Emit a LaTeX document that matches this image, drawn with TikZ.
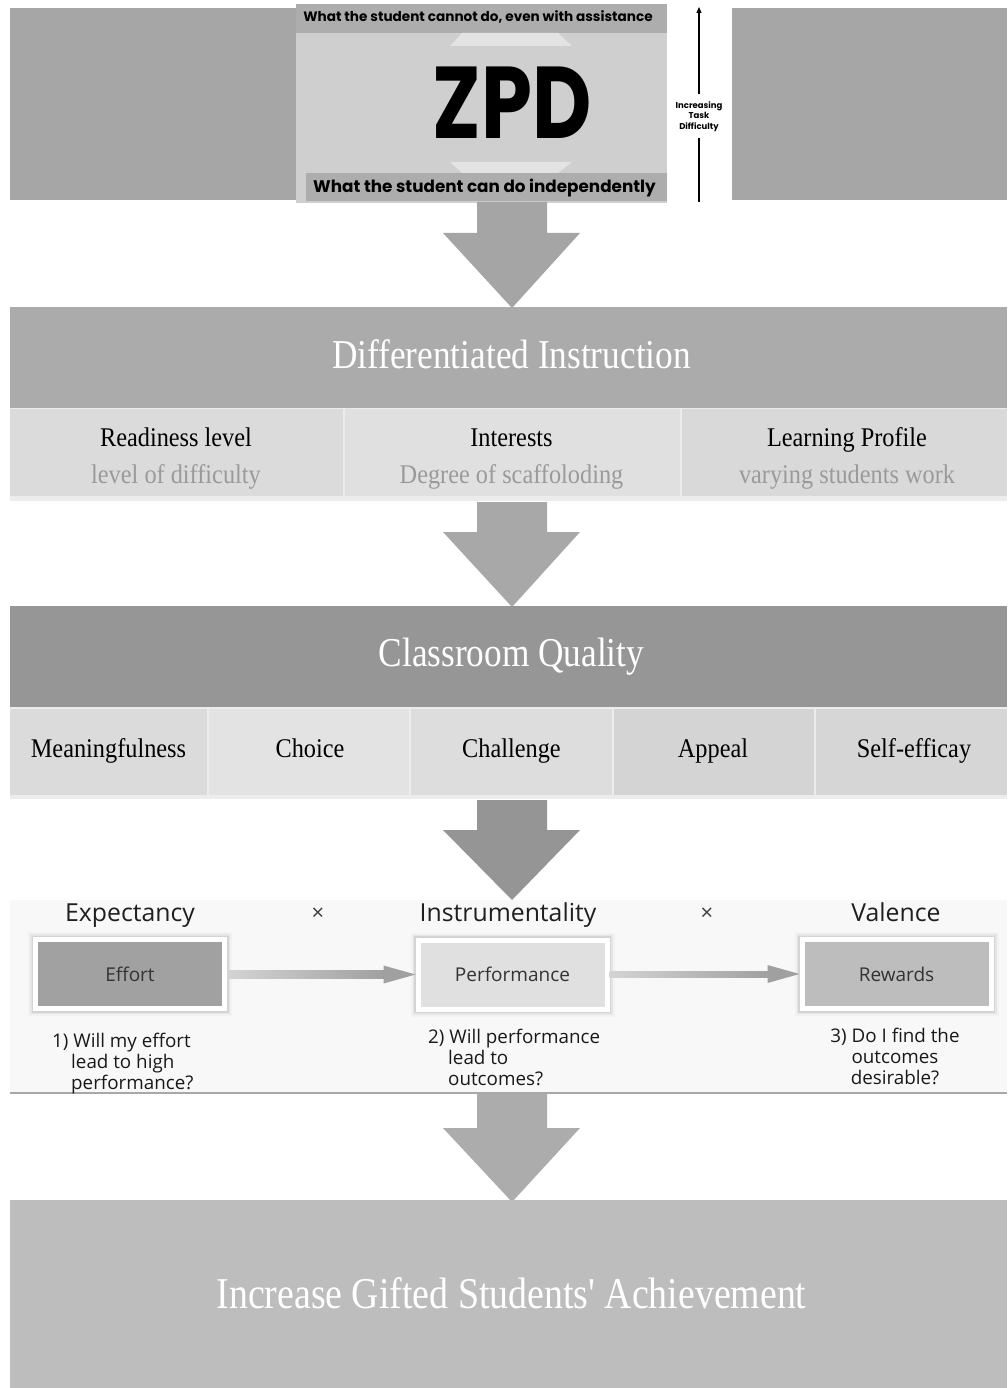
\documentclass[tikz,border=0pt]{standalone}
\usepackage{fontspec}
\setmainfont{Liberation Serif}
\newfontfamily\hdfont[FakeStretch=0.86]{Liberation Serif}
\newfontfamily\cellfont[FakeStretch=0.9]{Liberation Serif}
\newfontfamily\vrfont{Open Sans}
\newfontfamily\zpdfont[FakeStretch=0.8]{Poppins}
\newfontfamily\popfont{Poppins}
\usetikzlibrary{calc,arrows.meta}
\definecolor{topbar}{HTML}{A6A6A6}
\definecolor{zpdpanel}{HTML}{CFCFCF}
\definecolor{zpdband}{HTML}{ADADAD}
\definecolor{zpdlight}{HTML}{E3E3E3}
\definecolor{diband}{HTML}{ABABAB}
\definecolor{cqband}{HTML}{969696}
\definecolor{finalband}{HTML}{BDBDBD}
\definecolor{subtxt}{HTML}{9A9A9A}
\definecolor{cellstrip}{HTML}{ECECEC}
\definecolor{vbg}{HTML}{F8F8F8}
\definecolor{vline}{HTML}{A8A8A8}
\definecolor{vtext}{HTML}{333333}
\definecolor{arrA}{HTML}{A5A5A5}
\definecolor{arrB}{HTML}{A8A8A8}
\definecolor{arrC}{HTML}{959595}
\definecolor{arrD}{HTML}{ACACAC}
\definecolor{shaftL}{HTML}{D4D4D4}
\definecolor{shaftR}{HTML}{A0A0A0}
\newcommand\blockarrow[4]{\fill[#4] (477,#1) -- (547,#1) -- (547,#2) -- (580,#2) -- (512,#3) -- (443,#2) -- (477,#2) -- cycle;}
\begin{document}
\begin{tikzpicture}[x=1pt,y=-1pt,
  rect/.style={rectangle,inner sep=0pt,outer sep=0pt,draw=none,anchor=north west},
  bandtext/.style={anchor=base,text=white,font=\hdfont\fontsize{41}{45}\selectfont},
  celltext/.style={anchor=base,text=black,font=\cellfont\fontsize{27}{30}\selectfont},
  cellsub/.style={anchor=base,text=subtxt,font=\cellfont\fontsize{27}{30}\selectfont},
  vhead/.style={anchor=base,text=black!88,font=\vrfont\fontsize{24.8}{28}\selectfont},
  vtimes/.style={text=black!75,font=\vrfont\fontsize{22}{24}\selectfont},
  vbox/.style={rectangle,draw=white,line width=5pt,minimum width=189,minimum height=69,inner sep=0pt,
    font=\vrfont\fontsize{19}{22}\selectfont,text=vtext,
    preaction={draw=black!5,line width=15pt},
    preaction={draw=black!10,line width=11pt},
    preaction={draw=black!17,line width=8pt}},
  vq/.style={anchor=north west,inner sep=0pt,text=black!90,font=\vrfont\fontsize{18.8}{21}\selectfont}]
\useasboundingbox (0,0) rectangle (1007,1388);
% ---------- ZPD row ----------
\node[rect,fill=topbar,minimum width=286,minimum height=192] (topL) at (10,8) {};
\node[rect,fill=topbar,minimum width=275,minimum height=192] (topR) at (732,8) {};
\node[rect,fill=white,minimum width=436,minimum height=200] (zpdimg) at (296,3) {};
\node[rect,fill=zpdpanel,minimum width=371,minimum height=199] (zpdpanel) at (296,4) {};
\node[rect,fill=zpdband,minimum width=371,minimum height=29] (zpdtop) at (296,4) {};
\node[rect,fill=zpdband,minimum width=361,minimum height=28] (zpdbot) at (306,173) {};
\fill[zpdlight] (462,33) -- (558,33) -- (572,46) -- (450,46) -- cycle;
\fill[zpdlight] (450,162) -- (572,162) -- (558,173) -- (462,173) -- cycle;
\node[anchor=base,font=\popfont\bfseries\fontsize{13.6}{15}\selectfont] (cannot) at (478,22) {What the student cannot do, even with assistance};
\node[anchor=base,font=\popfont\bfseries\fontsize{16.8}{19}\selectfont] (can) at (484.5,193) {What the student can do independently};
\node[font=\zpdfont\bfseries\fontsize{102}{110}\selectfont,inner sep=0pt] (zpd) at (512,102.5) {ZPD};
\node[font=\popfont\bfseries\fontsize{8.5}{10.5}\selectfont,align=center,inner xsep=1pt,inner ysep=7pt,anchor=north] (diff) at (699,94) {Increasing\\Task\\Difficulty};
\coordinate (ab) at (699,202);
\coordinate (at) at (699,7);
\draw[line width=1.1pt] (ab) -- (diff.south);
\draw[line width=1.1pt,-{Triangle[length=6pt,width=5pt]}] (diff.north) -- (at);
% ---------- arrow 1 ----------
\blockarrow{202}{233}{308}{arrA}
% ---------- Differentiated Instruction ----------
\node[rect,fill=diband,minimum width=997,minimum height=101] (di) at (10,307) {};
\node[bandtext] (ditext) at (511.5,368) {Differentiated Instruction};
\node[rect,fill=cellstrip,minimum width=997,minimum height=93] (distrip) at (10,408) {};
\node[rect,fill=black!14,minimum width=333,minimum height=87] (di1) at (10,409) {};
\node[rect,fill=black!12,minimum width=335,minimum height=87] (di2) at (345,409) {};
\node[rect,fill=black!15,minimum width=325,minimum height=87] (di3) at (682,409) {};
\node[celltext] (r1) at (176,446) {Readiness level};
\node[cellsub] (r2) at (176,483) {level of difficulty};
\node[celltext] (i1) at (511.5,446) {Interests};
\node[cellsub] (i2) at (511.5,483) {Degree of scaffoloding};
\node[celltext] (l1) at (847,446) {Learning Profile};
\node[cellsub] (l2) at (847,483) {varying students work};
% ---------- arrow 2 ----------
\blockarrow{502}{532}{607}{arrB}
% ---------- Classroom Quality ----------
\node[rect,fill=cqband,minimum width=997,minimum height=101] (cq) at (10,606) {};
\node[bandtext] (cqtext) at (511.5,666) {Classroom Quality};
\node[rect,fill=cellstrip,minimum width=997,minimum height=92] (cqstrip) at (10,707) {};
\node[rect,fill=black!14,minimum width=197,minimum height=86] (c1) at (10,709) {};
\node[rect,fill=black!11,minimum width=200,minimum height=86] (c2) at (209,709) {};
\node[rect,fill=black!13.5,minimum width=201,minimum height=86] (c3) at (411,709) {};
\node[rect,fill=black!17,minimum width=200,minimum height=86] (c4) at (614,709) {};
\node[rect,fill=black!16,minimum width=191,minimum height=86] (c5) at (816,709) {};
\node[celltext] (m) at (108.5,757) {Meaningfulness};
\node[celltext] (ch) at (310,757) {Choice};
\node[celltext] (cl) at (511.5,757) {Challenge};
\node[celltext] (ap) at (713,757) {Appeal};
\node[celltext] (se) at (914,757) {Self-efficay};
% ---------- Vroom ----------
\node[rect,fill=vbg,minimum width=997,minimum height=193] (vbgnode) at (10,900) {};
\draw[vline,line width=2pt] (vbgnode.south west) -- (vbgnode.south east);
\blockarrow{800}{830}{900}{arrC}
\node[vhead] (ex) at (130,921) {Expectancy};
\node[vhead] (ins) at (508,921) {Instrumentality};
\node[vhead] (val) at (896,921) {Valence};
\node[vtimes] (x1) at (318,914) {×};
\node[vtimes] (x2) at (707,914) {×};
\node[vbox,fill=black!37] (effort) at (130,974) {Effort};
\node[vbox,fill=black!12] (perf) at (512.5,974.5) {Performance};
\node[vbox,fill=black!26] (rew) at (896.5,974) {Rewards};
\path[left color=shaftL,right color=shaftR] ($(effort.east)+(0,-3.5)$) rectangle ($(perf.west)+(-31,3.5)$);
\fill[shaftR] ($(perf.west)+(-32,-9)$) -- (perf.west) -- ($(perf.west)+(-32,9)$) -- cycle;
\path[left color=shaftL,right color=shaftR] ($(perf.east)+(0,-3.5)$) rectangle ($(rew.west)+(-31,3.5)$);
\fill[shaftR] ($(rew.west)+(-32,-9)$) -- (rew.west) -- ($(rew.west)+(-32,9)$) -- cycle;
\node[vq,align=left] (q1) at (52,1032.5) {1) Will my effort\\\hspace*{19pt}lead to high\\\hspace*{19pt}performance?};
\node[vq,align=left] (q2) at (428,1028.5) {2) Will performance\\\hspace*{20pt}lead to\\\hspace*{20pt}outcomes?};
\node[vq,align=center,anchor=north] (q3) at (895,1027.5) {3) Do I find the\\outcomes\\desirable?};
% ---------- arrow 4 ----------
\blockarrow{1094}{1128}{1202}{arrD}
% ---------- final ----------
\node[rect,fill=finalband,minimum width=997,minimum height=188] (fin) at (10,1200) {};
\node[bandtext,font=\hdfont\fontsize{44}{48}\selectfont] (fintext) at (511.5,1308) {Increase Gifted Students' Achievement};
\end{tikzpicture}
\end{document}
